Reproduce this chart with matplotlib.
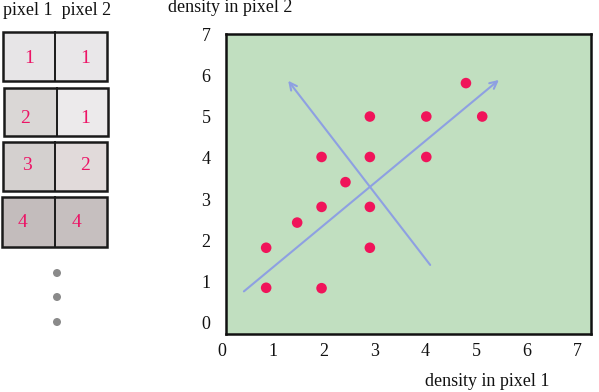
import matplotlib
matplotlib.use("Agg")
import matplotlib.pyplot as plt
from matplotlib.patches import Rectangle, FancyArrowPatch, Circle

plt.rcParams['font.family'] = ['Liberation Serif', 'DejaVu Serif']

# ---- data ----
pixel1 = [0.87, 1.96, 0.87, 1.48, 1.96, 2.43, 1.96, 2.91, 2.91, 2.91, 2.91, 4.02, 4.02, 4.80, 5.12]
pixel2 = [0.90, 0.89, 1.87, 2.48, 2.86, 3.46, 4.07, 5.05, 4.07, 2.86, 1.87, 5.05, 4.07, 5.86, 5.05]
arrow1 = [(0.39, 0.77), (5.49, 5.98)]
arrow2 = [(4.13, 1.40), (1.27, 5.97)]
tick_vals = [0, 1, 2, 3, 4, 5, 6, 7]
sample_p1 = [1, 2, 3, 4]
sample_p2 = [1, 1, 2, 4]
shade_p1 = ['#e7e5e7', '#dad7d6', '#d4d0cf', '#c3bcbc']
shade_p2 = ['#e9e7e9', '#ecEAEB', '#e1dada', '#c6bfbf']

W, H = 599, 392
fig = plt.figure(figsize=(W / 100, H / 100), dpi=100)

# main scatter axes (pixel box 226..591 x 34..334)
ax = fig.add_axes([226 / W, (H - 334) / H, (591 - 226) / W, (334 - 34) / H])
ax.set_facecolor('#c1dfc0')
ax.set_xlim(0.08, 7.26)
ax.set_ylim(-0.22, 7.05)
ax.set_xticks([])
ax.set_yticks([])
for s in ax.spines.values():
    s.set_linewidth(1.8)
    s.set_color('#111111')

ax.scatter(pixel1, pixel2, s=58, color='#f0145a', zorder=3, edgecolors='none')

for (p0, p1) in (arrow1, arrow2):
    ax.add_patch(FancyArrowPatch(p0, p1, arrowstyle='->', mutation_scale=13,
                                 color='#8ea0e2', lw=1.5, zorder=2))

# tick labels as text
bx = matplotlib.transforms.blended_transform_factory(ax.transData, fig.transFigure)
by = matplotlib.transforms.blended_transform_factory(fig.transFigure, ax.transData)
for v in tick_vals:
    ax.text(v, (H - 352) / H, str(v), transform=bx, ha='center', va='center',
            fontsize=13, color='#111111', clip_on=False)
    ax.text(206 / W, v, str(v), transform=by, ha='center', va='center',
            fontsize=13, color='#111111', clip_on=False)

fig.text(425 / W, (H - 381) / H, 'density in pixel 1', ha='left', va='center',
         fontsize=13, color='#111111')
fig.text(168 / W, (H - 8) / H, 'density in pixel 2', ha='left', va='center',
         fontsize=13, color='#111111')

# left panel overlay in pixel coordinates
ov = fig.add_axes([0, 0, 1, 1], zorder=-1)
ov.set_xlim(0, W)
ov.set_ylim(H, 0)
ov.axis('off')

ov.text(3, 10, 'pixel 1  pixel 2', ha='left', va='center', fontsize=13, color='#111111')

rows = [(3, 107, 32, 81, 55), (4, 108, 88, 136, 57), (3, 107, 142, 191, 55), (2, 107, 197, 247, 55)]
num_pos = [((29, 58), (85, 58)), ((25, 118), (85, 118)), ((27, 165), (85, 165)), ((23, 222), (77, 222))]
for i, (x0, x1, y0, y1, xd) in enumerate(rows):
    ov.add_patch(Rectangle((x0, y0), xd - x0, y1 - y0, facecolor=shade_p1[i], edgecolor='none'))
    ov.add_patch(Rectangle((xd, y0), x1 - xd, y1 - y0, facecolor=shade_p2[i], edgecolor='none'))
    ov.add_patch(Rectangle((x0, y0), x1 - x0, y1 - y0, facecolor='none', edgecolor='#1a1a1a', lw=1.8))
    ov.plot([xd, xd], [y0, y1], color='#1a1a1a', lw=1.4)
    (lx, ly), (rx, ry) = num_pos[i]
    ov.text(lx, ly, str(sample_p1[i]), ha='center', va='center', fontsize=14, color='#ec1466')
    ov.text(rx, ry, str(sample_p2[i]), ha='center', va='center', fontsize=14, color='#ec1466')

for yy in (273, 297, 322):
    ov.add_patch(Circle((57, yy), 4, facecolor='#8a8a8a', edgecolor='none'))

fig.savefig('out.png', dpi=100)
